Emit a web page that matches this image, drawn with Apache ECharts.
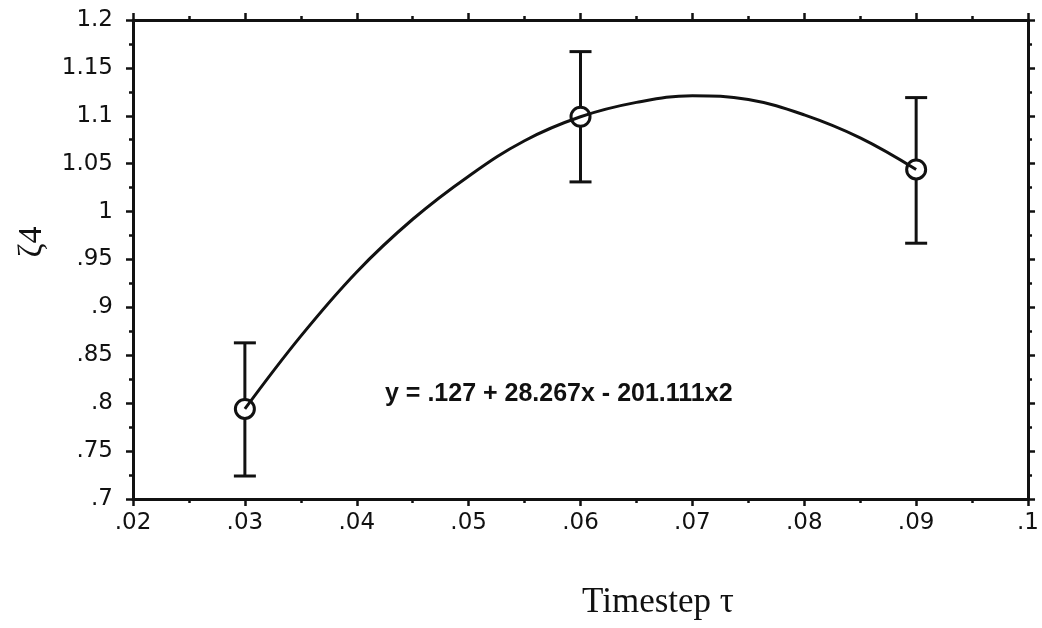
<!DOCTYPE html>
<html>
<head>
<meta charset="utf-8">
<script src="https://cdn.jsdelivr.net/npm/echarts@6/dist/echarts.min.js"></script>
<style>
  html, body { margin: 0; padding: 0; background: #fff; }
  #chart { width: 1042px; height: 628px; }
</style>
</head>
<body>
<div id="chart"></div>
<script>
// Measured zeta_4 at three timesteps, with error bars
const timesteps = [0.03, 0.06, 0.09];
const zetaMean  = [0.794, 1.099, 1.044];
const zetaLow   = [0.724, 1.031, 0.967];
const zetaHigh  = [0.863, 1.167, 1.119];

// Quadratic fit curve, sampled along the timestep axis
const fitX = [0.03, 0.035, 0.04, 0.045, 0.05, 0.055, 0.06, 0.065, 0.07, 0.075, 0.08, 0.085, 0.09];
const fitY = [0.794, 0.870, 0.937, 0.992, 1.037, 1.074, 1.099, 1.114, 1.121, 1.117, 1.101, 1.077, 1.044];

const fitLabel = 'y = .127 + 28.267x - 201.111x2';
const xTitle = 'Timestep \u03c4';
const yTitle = '\u03b64';

const xMin = 0.02, xMax = 0.1, xStep = 0.01;
const yMin = 0.7, yMax = 1.2, yStep = 0.05;

const fmt = v => String(+v.toFixed(3)).replace(/^0\./, '.');

const axisFont = { fontFamily: 'DejaVu Sans, Liberation Sans, sans-serif', fontSize: 23, color: '#111' };
const lineStyle = { color: '#111', width: 3 };

const chart = echarts.init(document.getElementById('chart'), null, { renderer: 'canvas' });

function axisCommon(showLabel, margin) {
  return {
    axisLine: { show: true, onZero: false, lineStyle },
    axisTick: { show: true, length: 7, lineStyle: { color: '#111', width: 2.5 } },
    minorTick: { show: true, splitNumber: 2, length: 4, lineStyle: { color: '#111', width: 2.5 } },
    splitLine: { show: false },
    axisLabel: Object.assign({ show: showLabel, margin, formatter: fmt }, axisFont)
  };
}

chart.setOption({
  animation: false,
  backgroundColor: '#fff',
  grid: { left: 133, right: 10, top: 20, bottom: 129, containLabel: false },
  xAxis: [
    Object.assign({ type: 'value', min: xMin, max: xMax, interval: xStep, position: 'bottom' }, axisCommon(true, 13)),
    Object.assign({ type: 'value', min: xMin, max: xMax, interval: xStep, position: 'top' }, axisCommon(false, 8))
  ],
  yAxis: [
    Object.assign({ type: 'value', min: yMin, max: yMax, interval: yStep, position: 'left' }, axisCommon(true, 20)),
    Object.assign({ type: 'value', min: yMin, max: yMax, interval: yStep, position: 'right' }, axisCommon(false, 8))
  ],
  graphic: [
    {
      type: 'text',
      left: 385, top: 382,
      style: { text: fitLabel, fontFamily: 'Liberation Sans, Arial, sans-serif', fontWeight: 'bold', fontSize: 25, fill: '#111' }
    },
    {
      type: 'text',
      x: 658, y: 603,
      style: { text: xTitle, fontFamily: 'Liberation Serif, Times New Roman, serif', fontSize: 35, fill: '#111', align: 'center', verticalAlign: 'middle' }
    },
    {
      type: 'text',
      x: 32, y: 242, rotation: Math.PI / 2,
      style: { text: yTitle, fontFamily: 'Liberation Serif, Times New Roman, serif', fontSize: 34, fill: '#111', align: 'center', verticalAlign: 'middle' }
    }
  ],
  series: [
    {
      type: 'custom',
      name: 'error',
      z: 2,
      data: timesteps.map((t, i) => [t, zetaLow[i], zetaHigh[i]]),
      renderItem: (params, api) => {
        const lo = api.coord([api.value(0), api.value(1)]);
        const hi = api.coord([api.value(0), api.value(2)]);
        const half = 11;
        const st = { stroke: '#111', lineWidth: 3 };
        return {
          type: 'group',
          children: [
            { type: 'line', shape: { x1: lo[0], y1: lo[1], x2: hi[0], y2: hi[1] }, style: st },
            { type: 'line', shape: { x1: lo[0] - half, y1: lo[1], x2: lo[0] + half, y2: lo[1] }, style: st },
            { type: 'line', shape: { x1: hi[0] - half, y1: hi[1], x2: hi[0] + half, y2: hi[1] }, style: st }
          ]
        };
      }
    },
    {
      type: 'scatter',
      name: 'mean',
      z: 3,
      symbol: 'circle',
      symbolSize: 19,
      itemStyle: { color: '#fff', borderColor: '#111', borderWidth: 3, opacity: 1 },
      data: timesteps.map((t, i) => [t, zetaMean[i]])
    },
    {
      type: 'line',
      name: 'fit',
      z: 4,
      smooth: 0.4,
      symbol: 'none',
      lineStyle: { color: '#111', width: 3 },
      data: fitX.map((x, i) => [x, fitY[i]])
    }
  ]
});
</script>
</body>
</html>
